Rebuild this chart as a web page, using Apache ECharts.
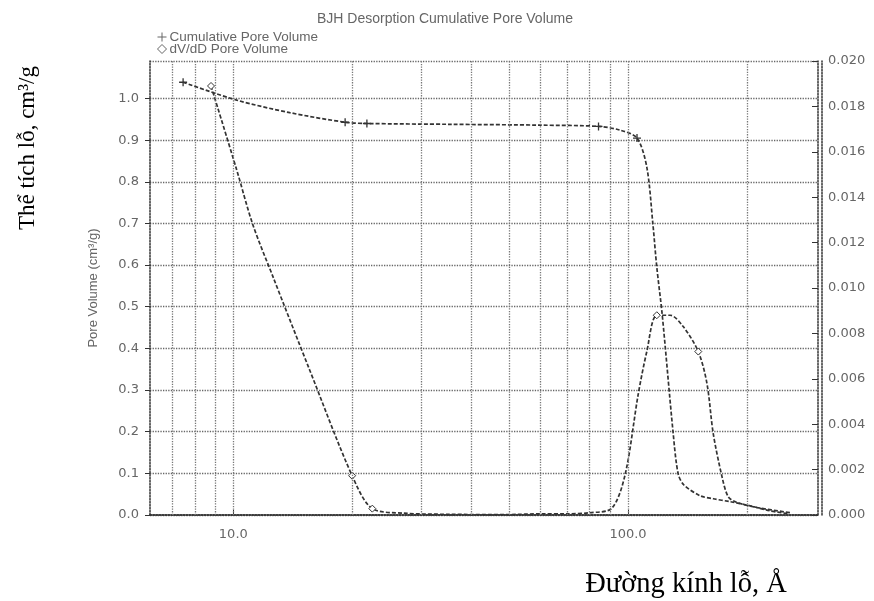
<!DOCTYPE html>
<html>
<head>
<meta charset="utf-8">
<script src="https://cdn.jsdelivr.net/npm/echarts@6/dist/echarts.min.js"></script>
<style>html,body{margin:0;padding:0;background:#fff;}#c{width:874px;height:601px;}</style>
</head>
<body>
<div id="c"></div>
<script>
// ---- data ----
const cumDiameter = [7.46, 10.2, 13.9, 19.2, 21.8, 35.5, 60, 84.2, 95.5, 105.4, 111.6, 115.6, 118.3, 122.1, 130.2, 134, 138.6, 152.5, 164.4, 181.5, 204, 229, 254.6];
const cumVolume   = [1.039, 0.996, 0.966, 0.943, 0.940, 0.938, 0.936, 0.933, 0.924, 0.905, 0.835, 0.700, 0.595, 0.481, 0.195, 0.099, 0.072, 0.046, 0.039, 0.032, 0.022, 0.010, 0.003];
const dvdDiameter = [8.78, 10.2, 11.2, 12.6, 15.6, 20.0, 22.5, 27, 35, 50, 60, 70, 80, 91, 98.4, 106.1, 111.6, 118.3, 127.9, 138, 150.7, 158.5, 164.4, 173, 179.5, 188.9, 212.3, 257.7];
const dvdValue    = [0.0189, 0.0152, 0.0128, 0.0105, 0.0064, 0.00173, 0.00028, 0.00008, 0.00003, 0.00002, 0.00005, 0.00005, 0.0001, 0.0003, 0.0018, 0.0053, 0.0072, 0.0088, 0.0088, 0.0083, 0.0072, 0.0058, 0.0036, 0.0017, 0.0008, 0.00055, 0.00033, 0.0001];
const xLabelValues = [10, 100];
const xGridValues = [7, 8, 9, 10, 20, 30, 40, 50, 60, 70, 80, 90, 100, 200];
const leftTicks = [0, 0.1, 0.2, 0.3, 0.4, 0.5, 0.6, 0.7, 0.8, 0.9, 1.0];
const rightTicks = [0, 0.002, 0.004, 0.006, 0.008, 0.010, 0.012, 0.014, 0.016, 0.018, 0.020];

// ---- styling helpers ----
const cumMarks = [0, 3, 4, 7, 9];
const dvdMarks = [0, 5, 6, 17, 20];
const plusPath = 'path://M0,5L10,5M5,0L5,10';
const ink = '#333';
const gray = '#666';

const chart = echarts.init(document.getElementById('c'), null, {renderer: 'canvas'});

chart.setOption({
  animation: false,
  backgroundColor: '#fff',
  title: {
    text: 'BJH Desorption Cumulative Pore Volume',
    left: 440, top: 7, textAlign: 'center',
    textStyle: {fontSize: 14, fontWeight: 'normal', color: gray, fontFamily: 'Liberation Sans'}
  },
  legend: {
    orient: 'vertical', left: 150, top: 25, itemGap: -2, itemWidth: 9, itemHeight: 9,
    textStyle: {fontSize: 13.5, color: gray, fontFamily: 'Liberation Sans', padding: [0, 0, 0, -2]},
    data: [
      {name: 'Cumulative Pore Volume', icon: plusPath, itemStyle: {color: 'none', borderColor: gray, borderWidth: 1}},
      {name: 'dV/dD Pore Volume', icon: 'diamond', itemStyle: {color: '#fff', borderColor: gray, borderWidth: 1}}
    ]
  },
  grid: {left: 150, right: 56, top: 61, bottom: 86, containLabel: false},
  xAxis: [{
    type: 'log', logBase: 10, min: 6.15, max: 303,
    axisLine: {show: true, lineStyle: {color: ink, type: 'dotted', width: 1.5}},
    axisTick: {show: true, inside: true, length: 5, lineStyle: {color: ink}},
    axisLabel: {
      formatter: v => (xLabelValues.some(t => Math.abs(t - v) < 1e-6) ? v.toFixed(1) : ''),
      showMinLabel: false, showMaxLabel: false,
      color: gray, fontSize: 13, fontFamily: 'DejaVu Sans', margin: 13
    },
    splitLine: {show: false}
  }, {
    type: 'value', position: 'top', min: 0, max: 1,
    axisLine: {show: true, lineStyle: {color: ink, type: 'dotted', width: 1.5}},
    axisTick: {show: false}, axisLabel: {show: false}, splitLine: {show: false}
  }],
  yAxis: [{
    type: 'value', position: 'left', min: 0, max: 1.09, interval: 0.1,
    name: 'Pore Volume (cm³/g)', nameLocation: 'middle', nameGap: 50, nameRotate: 90,
    nameTextStyle: {fontSize: 13, color: gray, fontFamily: 'Liberation Sans'},
    axisLine: {show: true, lineStyle: {color: ink, type: 'dotted', width: 1.5}},
    axisTick: {show: true, length: 5, lineStyle: {color: ink}},
    axisLabel: {formatter: v => (leftTicks.some(t => Math.abs(t - v) < 1e-9) ? v.toFixed(1) : ''), showMaxLabel: false,
      color: gray, fontSize: 13, fontFamily: 'DejaVu Sans', margin: 11},
    splitLine: {show: true, lineStyle: {color: '#666', type: 'dotted', width: 1.3}}
  }, {
    type: 'value', position: 'right', min: 0, max: 0.02, interval: 0.002,
    axisLine: {show: true, lineStyle: {color: ink, type: 'dotted', width: 1.5}},
    axisTick: {show: true, inside: true, length: 6, lineStyle: {color: ink}},
    axisLabel: {formatter: v => (rightTicks.some(t => Math.abs(t - v) < 1e-9) ? v.toFixed(3) : ''),
      color: gray, fontSize: 13, fontFamily: 'DejaVu Sans', margin: 10},
    splitLine: {show: false}
  }, {
    type: 'value', position: 'right', offset: 4, min: 0, max: 1,
    axisLine: {show: true, lineStyle: {color: ink, type: 'dotted', width: 1.5}},
    axisTick: {show: false}, axisLabel: {show: false}, splitLine: {show: false}
  }],
  series: [{
    name: 'Cumulative Pore Volume', type: 'line', xAxisIndex: 0, yAxisIndex: 0,
    smooth: 0.3,
    data: cumDiameter.map((d, i) => ({
      value: [d, cumVolume[i]],
      symbol: cumMarks.includes(i) ? plusPath : 'none', symbolSize: 8
    })),
    showAllSymbol: true,
    lineStyle: {color: ink, width: 1.7, type: [4, 2]},
    itemStyle: {color: 'none', borderColor: ink, borderWidth: 1.3},
    markLine: {
      silent: true, symbol: 'none', label: {show: false},
      lineStyle: {color: '#777', type: 'dotted', width: 1.3},
      data: xGridValues.map(v => ({xAxis: v}))
    }
  }, {
    name: 'dV/dD Pore Volume', type: 'line', xAxisIndex: 0, yAxisIndex: 1,
    smooth: 0.3,
    data: dvdDiameter.map((d, i) => ({
      value: [d, dvdValue[i]],
      symbol: dvdMarks.includes(i) ? 'diamond' : 'none', symbolSize: 7
    })),
    showAllSymbol: true,
    lineStyle: {color: ink, width: 1.7, type: [4, 2]},
    itemStyle: {color: '#fff', borderColor: ink, borderWidth: 1}
  }],
  graphic: [{
    type: 'text', x: 28, y: 148, rotation: Math.PI / 2, originX: 0, originY: 0,
    style: {text: 'Thể tích lỗ, cm³/g', fontSize: 23, fontFamily: 'Liberation Serif', fill: '#000',
      textAlign: 'center', textVerticalAlign: 'middle'}
  }, {
    type: 'text', x: 686, y: 585,
    style: {text: 'Đường kính lỗ, Å', fontSize: 28.5, fontFamily: 'Liberation Serif', fill: '#000',
      textAlign: 'center', textVerticalAlign: 'middle'}
  }]
});
</script>
</body>
</html>
